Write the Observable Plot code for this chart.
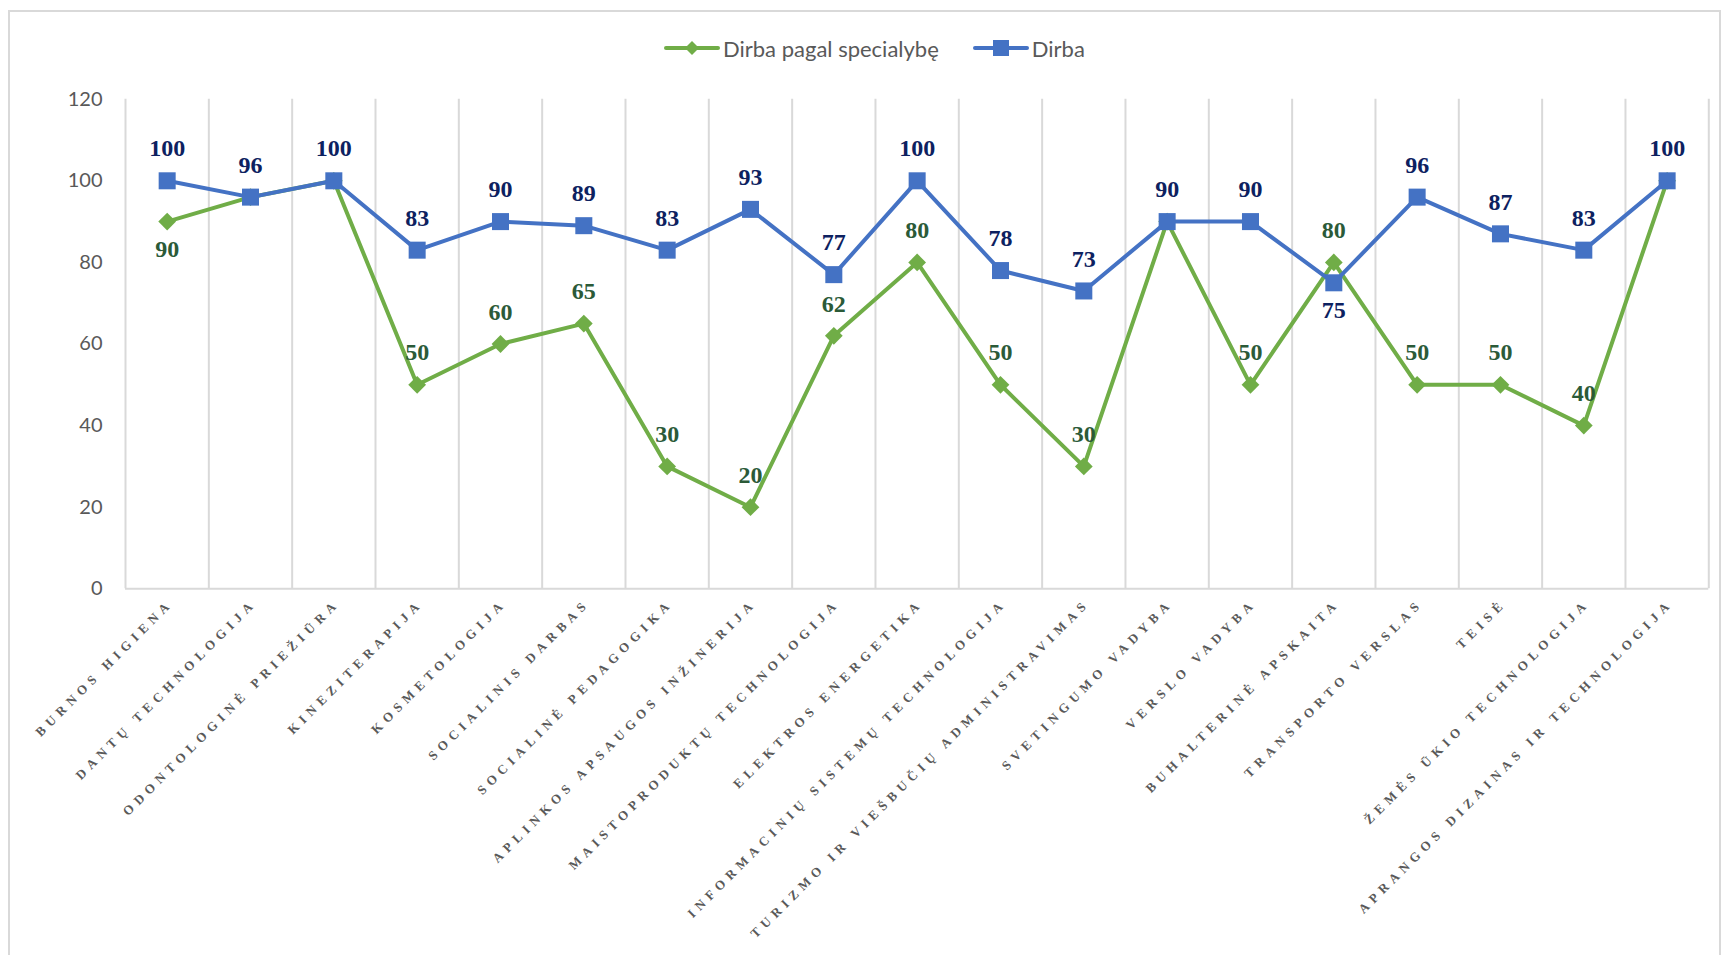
<!DOCTYPE html>
<html>
<head>
<meta charset="utf-8">
<script src="https://cdn.jsdelivr.net/npm/d3@7"></script>
<script src="https://cdn.jsdelivr.net/npm/@observablehq/plot@0.6"></script>
<style>
  html, body { margin: 0; padding: 0; background: #fff; overflow: hidden; }
  #wrap { position: relative; width: 1723px; height: 955px; }
  #frame { position: absolute; left: 8px; top: 10px; width: 1713px; height: 980px; border: 2px solid #d9d9d9; box-sizing: border-box; pointer-events: none; }
  #chart { position: absolute; left: 0; top: 0; }
  #legend { position: absolute; left: 664px; top: 33px; height: 30px; display: flex; align-items: center;
            font-family: Lato, "Open Sans", sans-serif; font-size: 22px; color: #595959; }
  #legend .item { display: flex; align-items: center; }
  #legend .item + .item { margin-left: 34px; }
  #legend svg { margin-right: 3px; }
</style>
</head>
<body>
<div id="wrap">
  <div id="frame"></div>
  <div id="chart"></div>
  <div id="legend"></div>
</div>
<script>
const categories = [
  "BURNOS HIGIENA",
  "DANTŲ TECHNOLOGIJA",
  "ODONTOLOGINĖ PRIEŽIŪRA",
  "KINEZITERAPIJA",
  "KOSMETOLOGIJA",
  "SOCIALINIS DARBAS",
  "SOCIALINĖ PEDAGOGIKA",
  "APLINKOS APSAUGOS INŽINERIJA",
  "MAISTOPRODUKTŲ TECHNOLOGIJA",
  "ELEKTROS ENERGETIKA",
  "INFORMACINIŲ SISTEMŲ TECHNOLOGIJA",
  "TURIZMO IR VIEŠBUČIŲ ADMINISTRAVIMAS",
  "SVETINGUMO VADYBA",
  "VERSLO VADYBA",
  "BUHALTERINĖ APSKAITA",
  "TRANSPORTO VERSLAS",
  "TEISĖ",
  "ŽEMĖS ŪKIO TECHNOLOGIJA",
  "APRANGOS DIZAINAS IR TECHNOLOGIJA"
];
const dirbaPagalSpecialybe = [90, 96, 100, 50, 60, 65, 30, 20, 62, 80, 50, 30, 90, 50, 80, 50, 50, 40, 100];
const dirba = [100, 96, 100, 83, 90, 89, 83, 93, 77, 100, 78, 73, 90, 90, 75, 96, 87, 83, 100];
const seriesNames = ["Dirba pagal specialybę", "Dirba"];
const yTicks = [0, 20, 40, 60, 80, 100, 120];

const GREEN = "#70AD47", BLUE = "#4472C4";
const GREEN_TXT = "#2B5A38", BLUE_TXT = "#0D2160";
const n = categories.length;

const green = categories.map((c, i) => ({i, cat: c, series: seriesNames[0], value: dirbaPagalSpecialybe[i], other: dirba[i]}));
const blue = categories.map((c, i) => ({i, cat: c, series: seriesNames[1], value: dirba[i], other: dirbaPagalSpecialybe[i]}));

// a label sits below its point when the other series is just above it
const isBelow = d => d.value < d.other && d.other - d.value <= 10;
const greenLabels = green.filter(d => d.value !== d.other);

const labelFont = {fontFamily: "'Liberation Serif', 'Times New Roman', serif", fontWeight: "bold", fontSize: 24};

const chart = Plot.plot({
  width: 1723,
  height: 955,
  marginLeft: 125,
  marginRight: 14.7,
  marginTop: 98.7,
  marginBottom: 366.7,
  style: {background: "transparent", overflow: "visible"},
  x: {type: "linear", domain: [-0.5, n - 0.5], axis: null},
  y: {domain: [0, 120], axis: null},
  marks: [
    Plot.ruleX(d3.range(n + 1), {x: d => d - 0.5, stroke: "#d9d9d9", strokeWidth: 2}),
    Plot.ruleY([0], {stroke: "#d9d9d9", strokeWidth: 2}),
    Plot.axisY({ticks: yTicks, tickSize: 0, tickPadding: 23, fontSize: 20, fontFamily: "Lato, 'Open Sans', sans-serif", fill: "#595959", label: null}),
    Plot.text(categories.map((c, i) => ({i, c})), {
      x: "i", frameAnchor: "bottom", text: "c", rotate: -45, textAnchor: "end",
      dx: 6.5, dy: 15.5, fontSize: 13, fontWeight: "bold",
      fontFamily: "'Liberation Serif', 'Times New Roman', serif", fill: "#595959"
    }),
    Plot.line(green, {x: "i", y: "value", stroke: GREEN, strokeWidth: 4}),
    Plot.dot(green, {x: "i", y: "value", symbol: "diamond2", r: 8, fill: GREEN, stroke: null}),
    Plot.line(blue, {x: "i", y: "value", stroke: BLUE, strokeWidth: 4}),
    Plot.dot(blue, {x: "i", y: "value", symbol: "square", r: 9.6, fill: BLUE, stroke: null}),
    Plot.text(greenLabels.filter(d => !isBelow(d)), {x: "i", y: "value", text: d => String(d.value), dy: -32, fill: GREEN_TXT, ...labelFont}),
    Plot.text(greenLabels.filter(isBelow), {x: "i", y: "value", text: d => String(d.value), dy: 28, fill: GREEN_TXT, ...labelFont}),
    Plot.text(blue.filter(d => !isBelow(d)), {x: "i", y: "value", text: d => String(d.value), dy: -32, fill: BLUE_TXT, ...labelFont}),
    Plot.text(blue.filter(isBelow), {x: "i", y: "value", text: d => String(d.value), dy: 28, fill: BLUE_TXT, ...labelFont})
  ]
});
document.getElementById("chart").appendChild(chart);

// wide letter spacing on the category labels
const catSet = new Set(categories);
d3.select(chart).selectAll("text")
  .filter(function() { return catSet.has(this.textContent); })
  .attr("letter-spacing", "5.2px")
  .style("letter-spacing", "5.2px");

// legend
const legend = d3.select("#legend");
const swatches = [
  {name: seriesNames[0], color: GREEN, symbol: "diamond"},
  {name: seriesNames[1], color: BLUE, symbol: "square"}
];
swatches.forEach(s => {
  const item = legend.append("div").attr("class", "item");
  const svg = item.append("svg").attr("width", 56).attr("height", 20);
  svg.append("line").attr("x1", 2).attr("x2", 54).attr("y1", 10).attr("y2", 10)
    .attr("stroke", s.color).attr("stroke-width", 4).attr("stroke-linecap", "round");
  if (s.symbol === "diamond") {
    svg.append("path").attr("d", "M28,3L35,10L28,17L21,10Z").attr("fill", s.color);
  } else {
    svg.append("rect").attr("x", 20).attr("y", 2).attr("width", 16).attr("height", 16).attr("fill", s.color);
  }
  item.append("span").text(s.name);
});
</script>
</body>
</html>
